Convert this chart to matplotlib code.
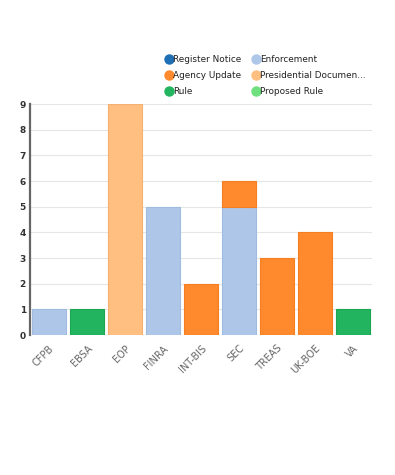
import matplotlib
matplotlib.use("Agg")
import matplotlib.pyplot as plt
from matplotlib.lines import Line2D
import numpy as np

categories = ["CFPB", "EBSA", "EOP", "FINRA", "INT-BIS", "SEC", "TREAS", "UK-BOE", "VA"]
series_names = ["Register Notice", "Enforcement", "Agency Update",
                "Presidential Documen...", "Rule", "Proposed Rule"]
register_notice = [0, 0, 0, 0, 0, 0, 0, 0, 0]
enforcement = [1, 0, 0, 5, 0, 5, 0, 0, 0]
agency_update = [0, 0, 0, 0, 2, 1, 3, 4, 0]
presidential = [0, 0, 9, 0, 0, 0, 0, 0, 0]
rule = [0, 1, 0, 0, 0, 0, 0, 0, 1]
proposed_rule = [0, 0, 0, 0, 0, 0, 0, 0, 0]
yticks = [0, 1, 2, 3, 4, 5, 6, 7, 8, 9]

colors = ["#1f6fb4", "#aec7e8", "#ff8a2e", "#ffbf80", "#22b45e", "#6fe07e"]
edges = ["#1a5f9a", "#9fbbe0", "#f57f1f", "#f5b070", "#1da552", "#5fd06e"]

stack_order = [register_notice, enforcement, agency_update, presidential, rule, proposed_rule]

fig = plt.figure(figsize=(3.95, 4.75), dpi=100)
ax = fig.add_axes([0.076, 0.2947, 0.866, 0.4863])

x = np.arange(len(categories))
bottom = np.zeros(len(categories))
for vals, c, e in zip(stack_order, colors, edges):
    v = np.array(vals, dtype=float)
    m = v > 0
    if m.any():
        ax.bar(x[m], v[m], bottom=bottom[m], width=0.89, color=c, edgecolor=e,
               linewidth=0.8, zorder=2)
    bottom += v

ax.set_xlim(-0.5, len(categories) - 0.5)
ax.set_ylim(0, 9)
ax.set_yticks(yticks)
ax.set_yticklabels([str(t) for t in yticks], fontsize=6.5, fontweight="bold", color="#333333")
ax.set_xticks(x)
ax.set_xticklabels(categories, rotation=45, ha="right", rotation_mode="anchor",
                   fontsize=7, color="#666666")
ax.tick_params(axis="x", length=0, pad=6)
ax.tick_params(axis="y", length=0, pad=3)
ax.grid(axis="y", color="#e6e6e6", linewidth=0.8, zorder=0)
ax.set_axisbelow(True)
for s in ["top", "right", "bottom"]:
    ax.spines[s].set_visible(False)
ax.spines["left"].set_color("#666666")
ax.spines["left"].set_linewidth(1.6)

# legend: row-wise order -> matplotlib fills column-wise, so reorder
order = [0, 2, 4, 1, 3, 5]
handles = [Line2D([0], [0], marker="o", linestyle="none", markersize=6.5,
                  markerfacecolor=colors[i], markeredgecolor=colors[i]) for i in order]
labels = [series_names[i] for i in order]
leg = fig.legend(handles, labels, loc="upper left", bbox_to_anchor=(0.4, 0.898),
                 ncol=2, frameon=False, fontsize=6.4, handletextpad=0.0,
                 columnspacing=1.1, labelspacing=0.8, handlelength=1.0,
                 borderpad=0.2)
for t in leg.get_texts():
    t.set_color("#222222")

fig.savefig("out.png", dpi=100)
